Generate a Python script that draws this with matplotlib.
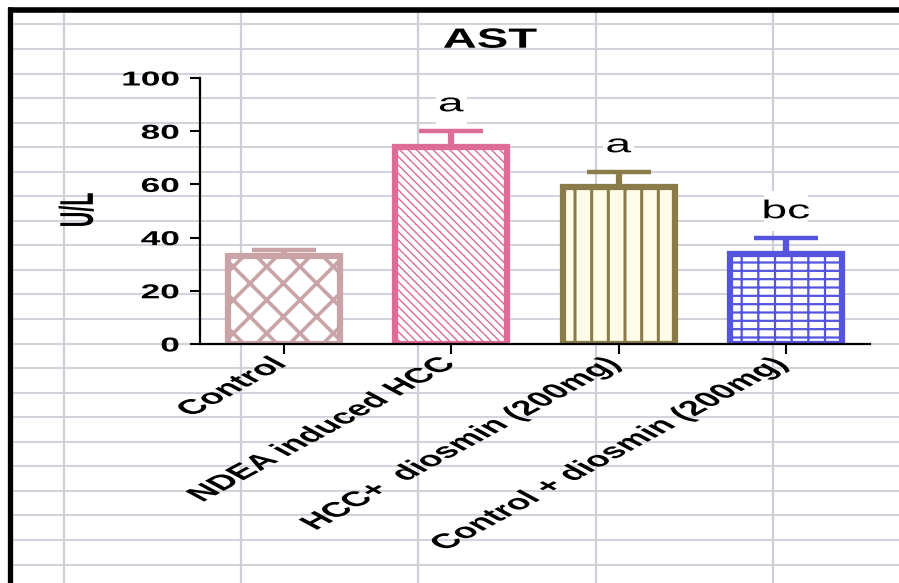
import numpy as np
import matplotlib
matplotlib.use("Agg")
import matplotlib.pyplot as plt
import matplotlib.patheffects as pe
from matplotlib.transforms import Affine2D

# data
groups = ["Control", "NDEA induced HCC", "HCC+  diosmin (200mg)", "Control + diosmin (200mg)"]
means = [32.9, 74.0, 59.2, 33.9]
errs = [2.4, 6.1, 5.5, 6.0]
letters = ["", "a", "a", "bc"]

# bar styles
edge = ["#C9A3A5", "#DD6C97", "#8A7C4A", "#5454DE"]
face = ["white", "white", "#FFFDE8", "white"]
hatch = ["x", "\\\\\\\\", "|", "+-"]
hatch_lw = [2.6, 1.0, 2.2, 1.6]

plt.rcParams["font.family"] = ["Liberation Sans", "DejaVu Sans"]


class Wide(pe.AbstractPathEffect):
    """stretch text sideways, the original font is very broad"""
    def __init__(self, sx=1.8, anchor="center"):
        super().__init__()
        self.sx = sx
        self.anchor = anchor

    def draw_path(self, renderer, gc, tpath, affine, rgbFace=None):
        bb = tpath.get_extents(affine)
        x0 = {"left": bb.x0, "center": (bb.x0 + bb.x1) / 2, "right": bb.x1}[self.anchor]
        st = Affine2D().translate(-x0, 0).scale(self.sx, 1).translate(x0, 0)
        renderer.draw_path(gc, tpath, affine + st, rgbFace)


W, H = 899, 583
fig = plt.figure(figsize=(W / 100, H / 100), dpi=100)

# spreadsheet-like background
bg = fig.add_axes([0, 0, 1, 1], zorder=-1)
bg.set_xlim(0, W)
bg.set_ylim(H, 0)
bg.axis("off")
bg.hlines(np.arange(24.4, H, 24.55), 12, W, color="#D3D3DB", lw=1.5)
bg.vlines(np.arange(64, W, 177.2), 12, H, color="#CFCFD8", lw=1.6)
bg.plot([8, W], [9.5, 9.5], color="black", lw=4, solid_capstyle="butt")
bg.plot([10, 10], [7, H], color="black", lw=3.8, solid_capstyle="butt")

ax = fig.add_axes([200 / W, 1 - 344 / H, 670 / W, 266 / H])
ax.set_facecolor("none")
x = np.arange(len(groups))

for i in range(len(groups)):
    ax.errorbar(x[i], means[i], yerr=[[0], [errs[i]]], fmt="none", ecolor=edge[i],
                elinewidth=4.5, capsize=23, capthick=3.2, zorder=1)
    b = ax.bar(x[i], means[i], width=0.67, color=face[i], edgecolor=edge[i],
               linewidth=4.5, hatch=hatch[i], zorder=2)
    for p in b:
        if hasattr(p, "set_hatch_linewidth"):
            p.set_hatch_linewidth(hatch_lw[i])
    if letters[i]:
        ax.text(x[i], means[i] + errs[i] + 7.4, letters[i], ha="center", va="baseline",
                fontsize=18.5, zorder=3, path_effects=[Wide(1.8)],
                bbox=dict(fc="white", ec="none", pad=6))

ax.set_xlim(-0.5, 3.5)
ax.set_ylim(0, 100)
ax.set_yticks([0, 20, 40, 60, 80, 100])
for s in ["top", "right"]:
    ax.spines[s].set_visible(False)
for s in ["left", "bottom"]:
    ax.spines[s].set_linewidth(1.6)
ax.tick_params(axis="both", length=7, width=1.5)
ax.tick_params(axis="y", pad=8)
ax.tick_params(axis="x", pad=5)
ax.set_xticks(x, groups, rotation=45, ha="right", va="center", rotation_mode="anchor",
              fontsize=15, fontweight="bold")
plt.setp(ax.get_xticklabels(), path_effects=[Wide(1.85, "right")])
plt.setp(ax.get_yticklabels(), fontsize=14.5, fontweight="bold",
         path_effects=[Wide(1.75, "right")])

ax.set_ylabel("U/L", fontsize=15.5, fontweight="bold", path_effects=[Wide(2.2)])
ax.yaxis.set_label_coords(-0.166, 0.504)

fig.text(490 / W, 1 - 47.7 / H, "AST", ha="center", va="baseline", fontsize=20,
         fontweight="bold", path_effects=[Wide(1.7)])

fig.savefig("out.png", dpi=100)
